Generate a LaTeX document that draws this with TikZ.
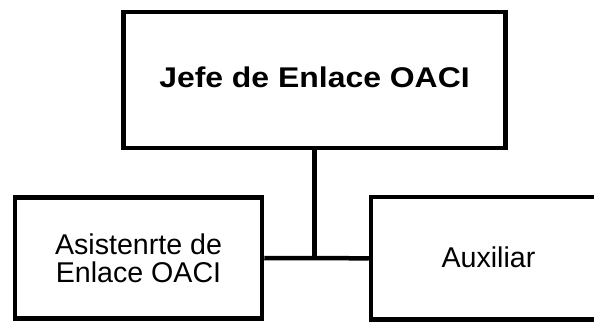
\documentclass[tikz,border=0pt]{standalone}
\usepackage{fontspec}
\newfontfamily\boxfont{Liberation Sans}
\newfontfamily\headfont[FakeStretch=1.12]{Liberation Sans}
\tikzset{
  orgbox/.style={draw, rectangle, line width=4.5pt, inner sep=0pt,
    align=center, font=\boxfont\fontsize{28.6}{28}\selectfont},
  headbox/.style={orgbox, font=\headfont\bfseries\fontsize{28.5}{28}\selectfont},
  link/.style={line width=4.5pt}
}
\begin{document}
\begin{tikzpicture}[x=1pt, y=-1pt]
      \clip (0,0) rectangle (594,322);
      \node[headbox, minimum width=382pt, minimum height=136.3pt, text depth=6pt]
        (jefe) at (314.5,80) {Jefe de Enlace OACI};
      \node[orgbox, minimum width=247pt, minimum height=121pt]
        (asist) at (138.5,258) {Asistenrte de\\Enlace OACI};
      \node[orgbox, minimum width=235pt, minimum height=122.5pt, text depth=2pt]
        (aux) at (488.5,258.3) {Auxiliar};
      \coordinate (junc) at (jefe.south |- asist.east);
      \begin{scope}[link]
        \draw (jefe.south) to (junc);
        \draw (asist.east) to (aux.west);
      \end{scope}
    \end{tikzpicture}
\end{document}
